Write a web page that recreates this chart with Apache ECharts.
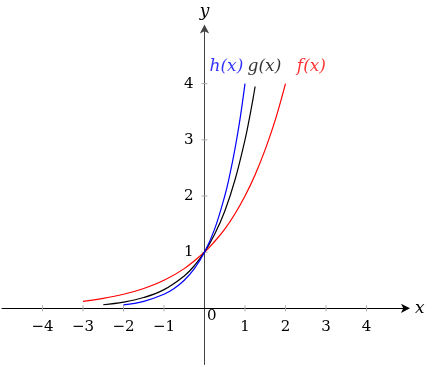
<!DOCTYPE html>
<html><head><meta charset="utf-8">
<script src="https://cdn.jsdelivr.net/npm/echarts@6/dist/echarts.min.js"></script>
<style>html,body{margin:0;padding:0;background:#fff}#c{width:434px;height:367px}</style>
</head><body><div id="c"></div>
<script>
// f(x) (red)
var fX = [-3,-2.5,-2,-1.5,-1,-0.5,0,0.25,0.5,0.75,1,1.25,1.5,1.75,2];
var fY = [0.125,0.177,0.25,0.354,0.5,0.707,1,1.19,1.41,1.68,2,2.38,2.83,3.36,4];
// g(x) (black)
var gX = [-2.5,-2,-1.5,-1,-0.5,-0.25,0,0.25,0.5,0.75,1,1.1,1.2,1.25];
var gY = [0.064,0.111,0.192,0.333,0.577,0.76,1,1.32,1.73,2.28,3,3.35,3.74,3.95];
// h(x) (blue)
var hX = [-2,-1.5,-1,-0.75,-0.5,-0.25,0,0.25,0.5,0.625,0.75,0.875,1];
var hY = [0.0625,0.125,0.25,0.354,0.5,0.707,1,1.41,2,2.38,2.83,3.36,4];
// tick values / labels
var xTicks = [-4,-3,-2,-1,1,2,3,4];
var xTickLabels = ['\u22124','\u22123','\u22122','\u22121','1','2','3','4'];
var yTicks = [1,2,3,4];
var yTickLabels = ['1','2','3','4'];
// curve labels
var labelNames = ['h(x)','g(x)','f(x)'];
var labelX = [0.54,1.48,2.64];
var labelY = [4.3,4.3,4.3];
var labelColors = ['#0000ff','#000000','#ff0000'];

function pairs(xs, ys){ return xs.map(function(x,i){ return [x, ys[i]]; }); }

var serif = '"DejaVu Serif", serif';
var tickFont = '15px "DejaVu Serif", serif';
var chart = echarts.init(document.getElementById('c'), null, {renderer:'canvas'});
var lineCommon = {type:'line', smooth:0.4, showSymbol:false, symbol:'none', silent:true, animation:false};
// [x, y, isXTick(1)/isYTick(0)/origin(2), labelIndex]
var tickData = xTicks.map(function(v,i){ return [v, 0, 1, i]; })
  .concat(yTicks.map(function(v,i){ return [0, v, 0, i]; }))
  .concat([[0, 0, 2, 0]]);
chart.setOption({
  animation:false,
  grid:{left:2, top:27.5, width:405, height:337, containLabel:false, outerBoundsMode:'none'},
  xAxis:{
    type:'value', min:-5, max:5, interval:1,
    axisLine:{show:true, onZero:true, symbol:['none','arrow'], symbolSize:[7,9], symbolOffset:[0,3], lineStyle:{color:'#000', width:1}},
    axisTick:{show:false}, axisLabel:{show:false}, splitLine:{show:false},
    name:'x', nameLocation:'end', nameGap:8,
    nameTextStyle:{fontFamily:serif, fontStyle:'italic', fontSize:17, color:'#000', verticalAlign:'middle'}
  },
  yAxis:{
    type:'value', min:-1, max:5, interval:1,
    axisLine:{show:true, onZero:true, symbol:['none','arrow'], symbolSize:[7,9], symbolOffset:[0,3], lineStyle:{color:'#444', width:1}},
    axisTick:{show:false}, axisLabel:{show:false}, splitLine:{show:false},
    name:'y', nameLocation:'end', nameGap:7,
    nameTextStyle:{fontFamily:serif, fontStyle:'italic', fontSize:17, color:'#000'}
  },
  series:[
    {type:'custom', silent:true, animation:false, data:tickData, clip:false,
      renderItem:function(params, api){
        var p = api.coord([api.value(0), api.value(1)]);
        var kind = api.value(2), idx = api.value(3);
        if (kind === 2) {
          return {type:'text', style:{text:'0', x:p[0]+2.5, y:p[1]+0.5, fill:'#000', font:tickFont, align:'left', verticalAlign:'top'}};
        }
        var isX = kind === 1;
        var shape = isX ? {x1:p[0], y1:p[1]-3, x2:p[0], y2:p[1]+3} : {x1:p[0]-3, y1:p[1], x2:p[0]+3, y2:p[1]};
        var txt = isX
          ? {type:'text', style:{text:xTickLabels[idx], x:p[0], y:p[1]+18.5, fill:'#000', font:tickFont, align:'center', verticalAlign:'middle'}}
          : {type:'text', style:{text:yTickLabels[idx], x:p[0]-11, y:p[1], fill:'#000', font:tickFont, align:'right', verticalAlign:'middle'}};
        return {type:'group', children:[
          {type:'line', shape:shape, style:{stroke:'#aaaaaa', lineWidth:1}},
          txt
        ]};
      }},
    Object.assign({}, lineCommon, {name:'f', data:pairs(fX,fY), lineStyle:{color:'#ff0000', width:1.2}}),
    Object.assign({}, lineCommon, {name:'g', data:pairs(gX,gY), lineStyle:{color:'#000000', width:1.2}}),
    Object.assign({}, lineCommon, {name:'h', data:pairs(hX,hY), lineStyle:{color:'#0000ff', width:1.2}}),
    {type:'scatter', symbolSize:0, silent:true, animation:false,
      data: labelNames.map(function(n,i){ return {name:n, value:[labelX[i], labelY[i]],
        label:{show:true, position:'inside', formatter:n, color:labelColors[i], fontFamily:serif, fontStyle:'italic', fontSize:17}}; })
    }
  ]
});
</script></body></html>
